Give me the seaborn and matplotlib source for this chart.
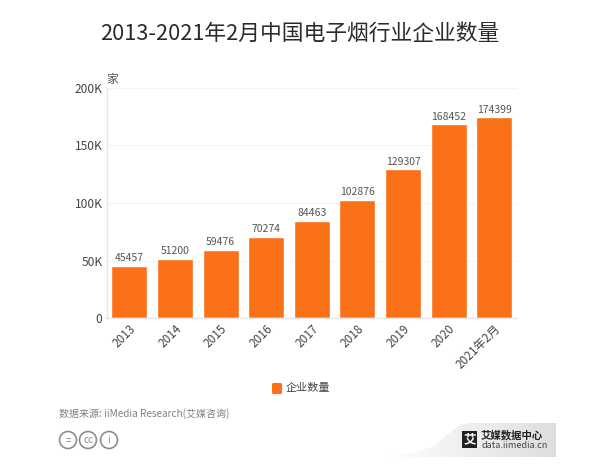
import matplotlib
matplotlib.use("Agg")
import matplotlib.pyplot as plt
from matplotlib.patches import Circle, FancyBboxPatch, Polygon, Rectangle
from matplotlib.ticker import FuncFormatter
import numpy as np
import pandas as pd
import seaborn as sns

years = ["2013", "2014", "2015", "2016", "2017", "2018", "2019", "2020", "2021年2月"]
counts = [45457, 51200, 59476, 70274, 84463, 102876, 129307, 168452, 174399]
series_name = "企业数量"
y_ticks = [0, 50000, 100000, 150000, 200000]

W, H = 600, 470
ORANGE = "#fb7118"

sns.set_theme(style="white")
plt.rcParams["font.family"] = ["Noto Sans CJK SC", "DejaVu Sans"]

df = pd.DataFrame({"year": years, "count": counts, "series": series_name})

fig = plt.figure(figsize=(W / 100, H / 100), dpi=100, facecolor="white")
ax = fig.add_axes([106.5 / W, 1 - 318 / H, 410.5 / W, 230 / H])

sns.barplot(data=df, x="year", y="count", color=ORANGE, width=0.79, saturation=1, ax=ax)

ax.set_xlim(-0.5, len(years) - 0.5)
ax.set_ylim(0, 200000)
ax.set_yticks(y_ticks)
ax.yaxis.set_major_formatter(FuncFormatter(lambda v, _: "0" if v == 0 else f"{int(v / 1000)}K"))
ax.set_xlabel("")
ax.set_ylabel("")
ax.grid(axis="y", color="#f4f4f4", linewidth=0.8)
ax.set_axisbelow(True)
sns.despine(ax=ax, top=True, right=True)
for side in ["left", "bottom"]:
    ax.spines[side].set_color("#e6e6e6")
    ax.spines[side].set_linewidth(1)

ax.tick_params(axis="y", length=0, pad=3, labelsize=8.6, labelcolor="#444444")
ax.tick_params(axis="x", length=0, pad=3, labelsize=8.5, labelcolor="#444444")
for label in ax.get_xticklabels():
    label.set_rotation(45)
    label.set_ha("right")
    label.set_rotation_mode("anchor")

ax.bar_label(ax.containers[0], labels=[str(c) for c in counts], padding=2, fontsize=7.5, color="#555555")

# title, unit, legend, source
fig.text(0.5, 1 - 34 / H, "2013-2021年2月中国电子烟行业企业数量", ha="center", va="center",
         fontsize=15.7, color="#2b2b2b")
fig.text(112 / W, 1 - 79 / H, "家", ha="center", va="center", fontsize=8.5, color="#555555")

fig.add_artist(FancyBboxPatch((272 / W, 1 - 394 / H), 10 / W, 11 / H, transform=fig.transFigure,
                              boxstyle="round,pad=0,rounding_size=0.003", fc=ORANGE, ec="none"))
fig.text(286 / W, 1 - 388 / H, series_name, ha="left", va="center", fontsize=8, color="#444444")
fig.text(59 / W, 1 - 414 / H, "数据来源: iiMedia Research(艾媒咨询)", ha="left", va="center",
         fontsize=7.2, color="#808080")

# licence badges, drawn in pixel coordinates
overlay = fig.add_axes([0, 0, 1, 1], facecolor="none")
overlay.set_xlim(0, W)
overlay.set_ylim(H, 0)
overlay.axis("off")
overlay.set_zorder(5)
for cx, text in [(68, "="), (88, "cc"), (109, "i")]:
    overlay.add_patch(Circle((cx, 440), 8.5, fc="white", ec="#8c8c8c", lw=1.2))
    overlay.text(cx, 440, text, ha="center", va="center", fontsize=7, color="#8c8c8c")

# logo corner, grey fading out to the left
corner = Polygon([(379, 457), (410, 454), (432, 447), (447, 435), (460, 425), (470, 423),
                  (556, 423), (556, 457)], fc="none", ec="none")
overlay.add_patch(corner)
shade = overlay.imshow(np.linspace(1, 0.87, 256).reshape(1, -1), extent=(379, 556, 457, 423),
                       cmap="gray", vmin=0, vmax=1, aspect="auto", zorder=1)
shade.set_clip_path(corner)
overlay.set_xlim(0, W)
overlay.set_ylim(H, 0)
overlay.add_patch(Rectangle((462, 431), 15, 17, fc="#222222", ec="none", zorder=2))
overlay.text(469.5, 439.5, "艾", ha="center", va="center", fontsize=9, color="white", weight="bold", zorder=3)
overlay.text(481, 435, "艾媒数据中心", ha="left", va="center", fontsize=7.5, color="#222222", weight="bold", zorder=3)
overlay.text(481, 445.5, "data.iimedia.cn", ha="left", va="center", fontsize=6.5, color="#444444", zorder=3)

fig.savefig("out.png", dpi=100)
